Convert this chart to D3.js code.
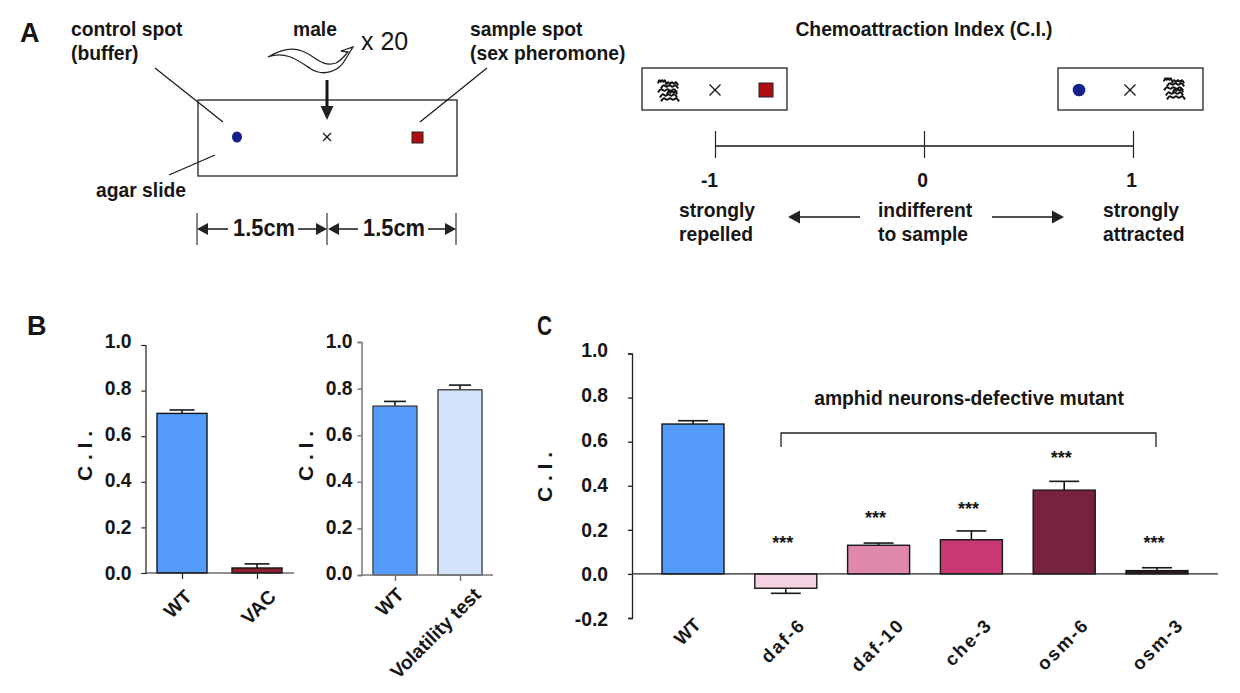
<!DOCTYPE html>
<html><head><meta charset="utf-8">
<script src="https://cdnjs.cloudflare.com/ajax/libs/d3/7.8.5/d3.min.js"></script>
<style>
html,body{margin:0;padding:0;background:#fff}
svg{display:block}
text{font-family:"Liberation Sans",Arial,sans-serif;font-weight:bold;fill:#161616}
</style></head><body>
<svg id="c" width="1240" height="693"></svg>
<script>
// ---- data ----
const yTicksB = [0, 0.2, 0.4, 0.6, 0.8, 1.0];
const yTicksC = [-0.2, 0, 0.2, 0.4, 0.6, 0.8, 1.0];
const ciTicks = [-1, 0, 1];

const b1Categories = ["WT", "VAC"];
const b1Values = [0.70, 0.022];
const b1ErrEnds = [0.715, 0.04];
const b1Colors = ["#559bf9", "#8e1f2e"];

const b2Categories = ["WT", "Volatility test"];
const b2Values = [0.725, 0.795];
const b2ErrEnds = [0.745, 0.815];
const b2Colors = ["#559bf9", "#d3e3fb"];

const cCategories = ["WT", "daf-6", "daf-10", "che-3", "osm-6", "osm-3"];
const cValues = [0.68, -0.065, 0.13, 0.155, 0.38, 0.015];
const cErrEnds = [0.695, -0.088, 0.14, 0.195, 0.42, 0.028];
const cColors = ["#559bf9", "#f3d3e2", "#e088ab", "#c83872", "#792140", "#2a1a22"];
const cStarLevels = [null, 0.111, 0.225, 0.266, 0.50, 0.111];

const svg = d3.select("#c");
const INK = "#161616";
const FS = 19.3;

function txt(s, x, y, size, anchor) {
  return svg.append("text").attr("x", x).attr("y", y).attr("font-size", size)
    .attr("text-anchor", anchor || "start").text(s);
}
function line(x1, y1, x2, y2, w, col) {
  return svg.append("line").attr("x1", x1).attr("y1", y1).attr("x2", x2).attr("y2", y2)
    .attr("stroke", col || INK).attr("stroke-width", w || 1.2);
}
function arrowHead(x, y, dir, len, half) {
  const p = dir === "left" ? [[x, y], [x + len, y - half], [x + len, y + half]]
    : dir === "right" ? [[x, y], [x - len, y - half], [x - len, y + half]]
    : [[x, y], [x - half, y - len], [x + half, y - len]];
  svg.append("path").attr("d", d3.line()(p) + "Z").attr("fill", "#222");
}
function cross(x, y, r) {
  line(x - r, y - r, x + r, y + r, 1.2);
  line(x - r, y + r, x + r, y - r, 1.2);
}
function wormClump(cx, cy) {
  const wave = d3.line().curve(d3.curveBasis);
  [[-11, -9, 8], [-8, -4, 17], [-11, 0, 19], [-9, 5, 17], [-8, 9, 18], [-3, -7, 12], [-2, 2, 10]].forEach(r => {
    const pts = d3.range(0, 7).map(i => [cx + r[0] + i * r[2] / 6, cy + r[1] + (i % 2 ? -2.4 : 2.4)]);
    svg.append("path").attr("d", wave(pts)).attr("fill", "none").attr("stroke", "#111").attr("stroke-width", 2);
  });
}

// ---- panel letters ----
txt("A", 20, 42, 27);
txt("B", 27, 335, 27);
txt("C", 537, 335, 27).attr("textLength", 15).attr("lengthAdjust", "spacingAndGlyphs");

// ---- panel A left: assay ----
txt("control spot", 71, 36, FS);
txt("(buffer)", 71, 60, FS);
txt("male", 293, 36, FS);
txt("x 20", 361, 50, 25).style("font-weight", "normal");
txt("sample spot", 470, 36, FS);
txt("(sex pheromone)", 470, 60, FS);
txt("agar slide", 96, 197, FS);

svg.append("path").attr("fill", "#fff").attr("stroke", "#222").attr("stroke-width", 1.3)
  .attr("d", "M268,57 C280,50 292,47 302,51 C314,55 322,68 336,63 C342,60 345,55 348,52 L341,51 L353,47 L345,60 C339,71 324,77 311,69 C299,61 285,50 268,57 Z");

svg.append("rect").attr("x", 198).attr("y", 100).attr("width", 259).attr("height", 76)
  .attr("fill", "none").attr("stroke", "#222").attr("stroke-width", 1.3);
line(155, 68, 223, 122);
line(487, 68, 420, 122);
line(169, 175, 215, 155);
line(327, 80, 327, 110, 3);
arrowHead(327, 120, "down", 14, 6.5);
svg.append("ellipse").attr("cx", 237).attr("cy", 137).attr("rx", 5).attr("ry", 5.5).attr("fill", "#14218c");
cross(327, 137, 4);
svg.append("rect").attr("x", 412).attr("y", 132).attr("width", 11).attr("height", 11)
  .attr("fill", "#b00d12").attr("stroke", "#222").attr("stroke-width", 1);

[197, 327, 456].forEach(x => line(x, 213, x, 245, 1.2, "#333"));
line(208, 229, 228, 229, 1.5); arrowHead(197, 229, "left", 11, 6);
line(298, 229, 317, 229, 1.5); arrowHead(327, 229, "right", 11, 6);
line(338, 229, 358, 229, 1.5); arrowHead(328, 229, "left", 11, 6);
line(428, 229, 446, 229, 1.5); arrowHead(456, 229, "right", 11, 6);
txt("1.5cm", 264, 236, 23, "middle").attr("textLength", 62).attr("lengthAdjust", "spacingAndGlyphs");
txt("1.5cm", 394, 236, 23, "middle").attr("textLength", 62).attr("lengthAdjust", "spacingAndGlyphs");

// ---- panel A right: index scale ----
txt("Chemoattraction Index (C.I.)", 924, 36, FS, "middle");
const ci = d3.scaleLinear().domain([-1, 1]).range([715, 1133]);
const ciY = 146;
line(ci(-1), ciY, ci(1), ciY, 1.3);
const ciAxis = svg.append("g").attr("transform", `translate(0,${ciY})`)
  .call(d3.axisBottom(ci).tickValues(ciTicks).tickSize(12).tickFormat(d3.format("d")));
ciAxis.select(".domain").remove();
ciAxis.selectAll("line").attr("stroke", "#222").attr("stroke-width", 1.2).attr("y1", -15);
ciAxis.selectAll("text").attr("font-size", FS).attr("y", 41).attr("dy", 0)
  .attr("dx", d => d === -1 ? -6 : -2).text(d => d);

[642, 1058].forEach(x => svg.append("rect").attr("x", x).attr("y", 68).attr("width", 145).attr("height", 42)
  .attr("fill", "none").attr("stroke", "#222").attr("stroke-width", 1.3));
wormClump(669, 90);
cross(715, 90, 5.5);
svg.append("rect").attr("x", 759).attr("y", 83).attr("width", 14).attr("height", 14)
  .attr("fill", "#b00d12").attr("stroke", "#222").attr("stroke-width", 1);
svg.append("circle").attr("cx", 1079).attr("cy", 90).attr("r", 6.3).attr("fill", "#14218c");
cross(1130, 90, 5.5);
wormClump(1175, 88);

txt("strongly", 679, 217, FS);
txt("repelled", 679, 241, FS);
txt("indifferent", 878, 217, FS);
txt("to sample", 878, 241, FS);
txt("strongly", 1103, 217, FS);
txt("attracted", 1103, 241, FS);
line(799, 217, 860, 217, 1.6); arrowHead(788, 217, "left", 12, 6.5);
line(992, 217, 1052, 217, 1.6); arrowHead(1064, 217, "right", 12, 6.5);

// ---- bar panels ----
function barPanel(o) {
  const y = d3.scaleLinear().domain(o.domain).range(o.yRange);
  const labelPos = d3.scaleLinear().domain(o.domain).range(o.labelRange);
  const x = d3.scalePoint().domain(o.cats).range(o.xRange);
  const g = svg.append("g");
  const zero = y(0);

  // error bars
  o.cats.forEach((c, i) => {
    const xc = x(c);
    g.append("line").attr("x1", xc).attr("x2", xc).attr("y1", y(o.vals[i])).attr("y2", y(o.errs[i]))
      .attr("stroke", INK).attr("stroke-width", 1.6);
    g.append("line").attr("x1", xc - o.capW).attr("x2", xc + o.capW).attr("y1", y(o.errs[i])).attr("y2", y(o.errs[i]))
      .attr("stroke", INK).attr("stroke-width", 1.6);
  });
  // bars
  g.selectAll("rect").data(o.vals).join("rect")
    .attr("x", (d, i) => x(o.cats[i]) - o.barW / 2)
    .attr("width", o.barW)
    .attr("y", d => Math.min(y(d), zero))
    .attr("height", d => Math.abs(y(d) - zero))
    .attr("fill", (d, i) => o.colors[i])
    .attr("stroke", o.barStroke || INK).attr("stroke-width", 1.4);
  // y axis
  const ya = g.append("g").attr("transform", `translate(${o.axisX},0)`)
    .call(d3.axisLeft(y).tickValues(o.ticks).tickSize(4)
      .tickFormat(d => d3.format(".1f")(d).replace("\u2212", "-")));
  ya.select(".domain").attr("stroke", o.axisCol).attr("stroke-width", o.axisW);
  ya.selectAll("line").attr("stroke", o.axisCol).attr("stroke-width", o.axisW);
  ya.selectAll("text").attr("font-size", FS).attr("x", -o.tickPad)
    .attr("y", d => labelPos(d) - y(d)).attr("dy", "0.35em");
  // x axis at zero
  g.append("line").attr("x1", o.axisX).attr("x2", o.xEnd).attr("y1", zero).attr("y2", zero)
    .attr("stroke", o.axisCol).attr("stroke-width", o.axisW);
  const xa = g.append("g").attr("transform", `translate(0,${zero})`)
    .call(d3.axisBottom(x).tickSize(o.xTick).tickFormat(""));
  xa.select(".domain").remove();
  xa.selectAll("line").attr("stroke", o.axisCol).attr("stroke-width", o.axisW);
  // rotated x labels
  g.selectAll(".xl").data(o.cats).join("text").attr("class", "xl")
    .attr("text-anchor", "end").attr("font-size", o.labelSize || FS)
    .style("letter-spacing", c => (o.spacedFrom && c !== o.cats[0]) ? o.spacedFrom + "px" : null)
    .attr("transform", (c, i) => `translate(${x(c) + o.labelDx[i]},${o.labelBase}) rotate(-45)`)
    .text(c => c);
  // y title
  g.append("text").attr("text-anchor", "middle").attr("font-size", 21)
    .attr("transform", `translate(${o.titleX},${o.titleY}) rotate(-90)`).text("C . I .");
  return { x, y };
}

barPanel({
  cats: b1Categories, vals: b1Values, errs: b1ErrEnds, colors: b1Colors,
  domain: [0, 1], yRange: [573, 345], labelRange: [573, 341], ticks: yTicksB, xRange: [182, 257],
  barW: 50, capW: 12.5, axisX: 145.5, xEnd: 294, axisCol: "#222", axisW: 1.2,
  tickPad: 14, xTick: 6, labelDx: [11, 20], labelBase: 598, titleX: 92, titleY: 456
});
barPanel({
  cats: b2Categories, vals: b2Values, errs: b2ErrEnds, colors: b2Colors,
  domain: [0, 1], yRange: [575, 342], labelRange: [573, 341], ticks: yTicksB, xRange: [395, 460],
  barW: 44, capW: 11, axisX: 361.5, xEnd: 493, axisCol: "#777", axisW: 1.5, barStroke: "#444",
  tickPad: 9, xTick: 6, labelDx: [10, 22], labelBase: 596, titleX: 313, titleY: 456
});
const pc = barPanel({
  cats: cCategories, vals: cValues, errs: cErrEnds, colors: cColors,
  domain: [-0.2, 1], yRange: [618, 353.5], labelRange: [619, 350], ticks: yTicksC,
  xRange: [693, 1157],
  barW: 62, capW: 15, axisX: 632, xEnd: 1218, axisCol: "#222", axisW: 1.3,
  tickPad: 24, xTick: 0, labelDx: [9, 21, 27, 22, 26, 28], labelBase: 626, labelSize: 18.5, spacedFrom: 2,
  titleX: 552, titleY: 477
});

// significance marks, bracket and note
cStarLevels.forEach((lvl, i) => {
  if (lvl === null) return;
  svg.append("text").attr("text-anchor", "middle").attr("font-size", 18)
    .attr("x", pc.x(cCategories[i]) - 3).attr("y", pc.y(lvl)).text("***");
});
const bTop = 433;
svg.append("path").attr("fill", "none").attr("stroke", "#222").attr("stroke-width", 1.3)
  .attr("d", d3.line()([[781, 447], [781, bTop], [1156, bTop], [1156, 447]]));
txt("amphid neurons-defective mutant", 969, 405, FS, "middle");
</script>
</body></html>
